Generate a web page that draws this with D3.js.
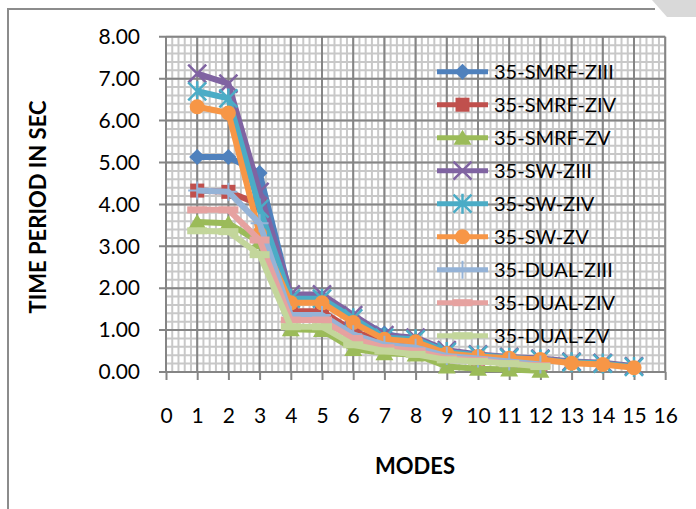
<!DOCTYPE html>
<html>
<head>
<meta charset="utf-8">
<script src="https://cdn.jsdelivr.net/npm/d3@7"></script>
<style>
  body { margin: 0; background: white; }
  text { font-family: Lato, "Open Sans", sans-serif; fill: #000; }
</style>
</head>
<body>
<script>
// modes on the x axis
const modes = d3.range(1, 16);

const seriesNames = ["35-SMRF-ZIII", "35-SMRF-ZIV", "35-SMRF-ZV",
                     "35-SW-ZIII", "35-SW-ZIV", "35-SW-ZV",
                     "35-DUAL-ZIII", "35-DUAL-ZIV", "35-DUAL-ZV"];

// time period (sec) per mode
const smrfZIII = [5.13, 5.13, 4.75, 1.78, 1.78, 1.30, 0.92, 0.75, 0.45, 0.38, 0.30, 0.25];
const smrfZIV  = [4.33, 4.30, 4.00, 1.45, 1.45, 0.98, 0.70, 0.62, 0.38, 0.32, 0.25, 0.20];
const smrfZV   = [3.58, 3.55, 3.10, 1.02, 1.00, 0.55, 0.45, 0.42, 0.13, 0.08, 0.06, 0.03];
const swZIII   = [7.12, 6.88, 4.30, 1.85, 1.85, 1.36, 0.88, 0.82, 0.52, 0.42, 0.36, 0.32, 0.25, 0.22, 0.14];
const swZIV    = [6.70, 6.53, 3.90, 1.75, 1.75, 1.28, 0.82, 0.78, 0.48, 0.40, 0.34, 0.30, 0.23, 0.20, 0.12];
const swZV     = [6.33, 6.18, 3.30, 1.65, 1.65, 1.18, 0.78, 0.72, 0.44, 0.37, 0.33, 0.30, 0.21, 0.18, 0.10];
const dualZIII = [4.33, 4.30, 3.55, 1.36, 1.36, 0.90, 0.65, 0.58, 0.38, 0.32, 0.25, 0.18];
const dualZIV  = [3.87, 3.87, 3.15, 1.24, 1.24, 0.80, 0.58, 0.50, 0.33, 0.28, 0.20, 0.15];
const dualZV   = [3.37, 3.35, 2.80, 1.08, 1.08, 0.65, 0.50, 0.42, 0.29, 0.25, 0.20, 0.13];

const seriesValues = [smrfZIII, smrfZIV, smrfZV, swZIII, swZIV, swZV, dualZIII, dualZIV, dualZV];

const yTicks = [0, 1, 2, 3, 4, 5, 6, 7, 8];
const xTicks = d3.range(0, 17);

const colors = ["#4F81BD", "#C0504D", "#9BBB59", "#8064A2", "#4BACC6", "#F79646",
                "#95B3D7", "#E6A2A0", "#C3D69B"];
const markers = ["diamond", "square", "triangle", "x", "star", "circle", "plus", "dash", "dash"];

const svg = d3.select("body").append("svg")
    .attr("width", 696)
    .attr("height", 509);

// chart area frame
svg.append("path")
    .attr("d", "M8,509 L8,9 L655,9")
    .attr("fill", "none")
    .attr("stroke", "#8c8c8c")
    .attr("stroke-width", 2);
svg.append("polygon")
    .attr("points", "652,0 696,0 696,17 667,17")
    .attr("fill", "#d9d9d9");

const x = d3.scaleLinear().domain([0, 16]).range([166, 665.2]);
const y = d3.scaleLinear().domain([0, 8]).range([372, 36.8]);

// minor grid
const grid = svg.append("g");
d3.range(0, 80.5).map(d => d / 5).forEach(v => {
    grid.append("line")
        .attr("x1", x(v)).attr("x2", x(v))
        .attr("y1", y(8)).attr("y2", y(0))
        .attr("stroke", "#c8c8c8").attr("stroke-width", 2);
});
d3.range(0, 40.5).map(d => d / 5).forEach(v => {
    grid.append("line")
        .attr("x1", x(0)).attr("x2", x(16))
        .attr("y1", y(v)).attr("y2", y(v))
        .attr("stroke", "#c8c8c8").attr("stroke-width", 2);
});
// major grid
xTicks.forEach(v => {
    grid.append("line")
        .attr("x1", x(v)).attr("x2", x(v))
        .attr("y1", y(8)).attr("y2", y(0))
        .attr("stroke", "#858585").attr("stroke-width", 2);
});
yTicks.forEach(v => {
    grid.append("line")
        .attr("x1", x(0) - 7).attr("x2", x(16))
        .attr("y1", y(v)).attr("y2", y(v))
        .attr("stroke", "#858585").attr("stroke-width", 2);
});

// axes
const yAxis = svg.append("g")
    .attr("transform", `translate(${x(0) - 7},0)`)
    .call(d3.axisLeft(y).tickValues(yTicks).tickFormat(d3.format(".2f")).tickSize(0).tickPadding(19));
yAxis.select(".domain").remove();
yAxis.selectAll("text").style("font-size", "21px").style("font-family", "Lato");

const xAxis = svg.append("g")
    .attr("transform", `translate(0,${y(0)})`)
    .call(d3.axisBottom(x).tickValues(xTicks).tickFormat(d3.format("d")).tickSize(8).tickPadding(28));
xAxis.select(".domain").remove();
xAxis.selectAll("line").attr("stroke", "#858585").attr("stroke-width", 2);
xAxis.selectAll("text").style("font-size", "21px").style("font-family", "Lato");

svg.append("text")
    .attr("x", 415).attr("y", 474)
    .attr("text-anchor", "middle")
    .style("font-size", "22px").style("font-weight", "bold")
    .text("MODES");

svg.append("text")
    .attr("transform", "translate(46,207) rotate(-90)")
    .attr("text-anchor", "middle")
    .style("font-size", "22px").style("font-weight", "bold")
    .text("TIME PERIOD IN SEC");

function drawMarker(g, type, color, cx, cy) {
    const m = g.append("g").attr("transform", `translate(${cx},${cy})`);
    if (type === "diamond") {
        m.append("path").attr("d", "M0,-8L8,0L0,8L-8,0Z").attr("fill", color);
    } else if (type === "square") {
        m.append("rect").attr("x", -7).attr("y", -7).attr("width", 14).attr("height", 14).attr("fill", color);
    } else if (type === "triangle") {
        m.append("path").attr("d", "M0,-8L9,7L-9,7Z").attr("fill", color);
    } else if (type === "circle") {
        m.append("circle").attr("r", 7.5).attr("fill", color);
    } else if (type === "x" || type === "star") {
        let d = "M-9,-9L9,9M-9,9L9,-9";
        if (type === "star") d += "M0,-10L0,10";
        m.append("path").attr("d", d).attr("stroke", color).attr("stroke-width", 2.5);
    } else if (type === "plus") {
        m.append("path").attr("d", "M0,-9L0,9M-9,0L9,0").attr("stroke", color).attr("stroke-width", 2);
    } else if (type === "dash") {
        m.append("rect").attr("x", -10).attr("y", -3.5).attr("width", 20).attr("height", 7).attr("fill", color);
    }
}

const line = d3.line()
    .x((d, i) => x(modes[i]))
    .y(d => y(d));

seriesValues.forEach((vals, s) => {
    const g = svg.append("g");
    g.append("path")
        .attr("d", line(vals))
        .attr("fill", "none")
        .attr("stroke", colors[s])
        .attr("stroke-width", 6)
        .attr("stroke-linejoin", "round");
    vals.forEach((v, i) => drawMarker(g, markers[s], colors[s], x(modes[i]), y(v)));
});

// legend
const legend = svg.append("g");
seriesNames.forEach((name, s) => {
    const ly = 71.7 + s * 33;
    legend.append("line")
        .attr("x1", 437).attr("x2", 488)
        .attr("y1", ly).attr("y2", ly)
        .attr("stroke", colors[s]).attr("stroke-width", 5);
    drawMarker(legend, markers[s], colors[s], 462.5, ly);
    legend.append("text")
        .attr("x", 494).attr("y", ly)
        .attr("dy", "0.36em")
        .style("font-size", "20px")
        .text(name);
});
</script>
</body>
</html>
